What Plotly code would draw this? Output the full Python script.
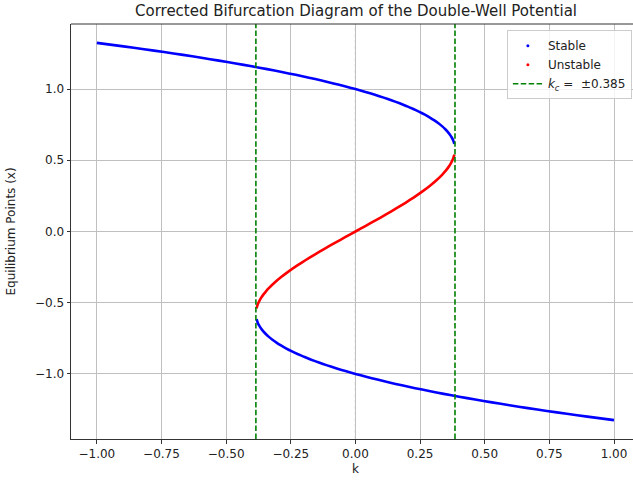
import plotly.graph_objects as go

# Upper stable branch (k, x)
k_upper = [-1.0, -0.897, -0.8172, -0.7404, -0.6666, -0.5958, -0.528, -0.4630, -0.4009, -0.3415,
           -0.2849, -0.231, -0.1797, -0.1310, -0.0849, -0.0412, 0.0, 0.0388, 0.0753, 0.1094,
           0.1413, 0.171, 0.1985, 0.2239, 0.2473, 0.2686, 0.288, 0.3054, 0.3210, 0.3348,
           0.3467, 0.357, 0.3656, 0.3725, 0.3779, 0.3824]
x_upper = [1.3247, 1.30, 1.28, 1.26, 1.24, 1.22, 1.20, 1.18, 1.16, 1.14,
           1.12, 1.10, 1.08, 1.06, 1.04, 1.02, 1.00, 0.98, 0.96, 0.94,
           0.92, 0.90, 0.88, 0.86, 0.84, 0.82, 0.80, 0.78, 0.76, 0.74,
           0.72, 0.70, 0.68, 0.66, 0.64, 0.615]

# Lower stable branch (k, x)
k_lower = [-0.3824, -0.3779, -0.3725, -0.3656, -0.357, -0.3467, -0.3348, -0.3210, -0.3054, -0.288,
           -0.2686, -0.2473, -0.2239, -0.1985, -0.171, -0.1413, -0.1094, -0.0753, -0.0388, 0.0,
           0.0412, 0.0849, 0.1310, 0.1797, 0.231, 0.2849, 0.3415, 0.4009, 0.4630, 0.528,
           0.5958, 0.6666, 0.7404, 0.8172, 0.897, 1.0]
x_lower = [-0.615, -0.64, -0.66, -0.68, -0.70, -0.72, -0.74, -0.76, -0.78, -0.80,
           -0.82, -0.84, -0.86, -0.88, -0.90, -0.92, -0.94, -0.96, -0.98, -1.00,
           -1.02, -1.04, -1.06, -1.08, -1.10, -1.12, -1.14, -1.16, -1.18, -1.20,
           -1.22, -1.24, -1.26, -1.28, -1.30, -1.3247]

# Middle unstable branch (k, x)
k_mid = [-0.3825, -0.3794, -0.375, -0.3694, -0.3627, -0.3548, -0.3459, -0.336, -0.3133, -0.2872,
         -0.2580, -0.2262, -0.192, -0.1559, -0.1183, -0.0795, -0.0399, 0.0, 0.0399, 0.0795,
         0.1183, 0.1559, 0.192, 0.2262, 0.2580, 0.2872, 0.3133, 0.336, 0.3459, 0.3548,
         0.3627, 0.3694, 0.375, 0.3794, 0.3825]
x_mid = [-0.54, -0.52, -0.50, -0.48, -0.46, -0.44, -0.42, -0.40, -0.36, -0.32,
         -0.28, -0.24, -0.20, -0.16, -0.12, -0.08, -0.04, 0.0, 0.04, 0.08,
         0.12, 0.16, 0.20, 0.24, 0.28, 0.32, 0.36, 0.40, 0.42, 0.44,
         0.46, 0.48, 0.50, 0.52, 0.54]

k_crit = 0.385
x_ticks = [-1.0, -0.75, -0.5, -0.25, 0.0, 0.25, 0.5, 0.75, 1.0]
x_tick_labels = ["\u22121.00", "\u22120.75", "\u22120.50", "\u22120.25", "0.00", "0.25", "0.50", "0.75", "1.00"]
y_ticks = [-1.0, -0.5, 0.0, 0.5, 1.0]
y_tick_labels = ["\u22121.0", "\u22120.5", "0.0", "0.5", "1.0"]

X_RANGE = [-1.1, 1.0734]
Y_RANGE = [-1.457, 1.457]
FONT = "DejaVu Sans"

fig = go.Figure()

line_w = 2.6
fig.add_trace(go.Scatter(x=k_upper, y=x_upper, mode="lines", line=dict(color="#0000ff", width=line_w, shape="spline", smoothing=0.5),
                         showlegend=False, hoverinfo="skip"))
fig.add_trace(go.Scatter(x=k_lower, y=x_lower, mode="lines", line=dict(color="#0000ff", width=line_w, shape="spline", smoothing=0.5),
                         showlegend=False, hoverinfo="skip"))
fig.add_trace(go.Scatter(x=k_mid, y=x_mid, mode="lines", line=dict(color="#ff0000", width=line_w, shape="spline", smoothing=0.5),
                         showlegend=False, hoverinfo="skip"))

# legend entries
fig.add_trace(go.Scatter(x=[None], y=[None], mode="markers", marker=dict(color="#0000ff", size=3), name="Stable"))
fig.add_trace(go.Scatter(x=[None], y=[None], mode="markers", marker=dict(color="#ff0000", size=3), name="Unstable"))
fig.add_trace(go.Scatter(x=[-k_crit, -k_crit, None, k_crit, k_crit],
                         y=[Y_RANGE[0], Y_RANGE[1], None, Y_RANGE[0], Y_RANGE[1]],
                         mode="lines", line=dict(color="#008000", width=1.6, dash="5.5px,2.4px"),
                         name="<i>k</i><sub><i>c</i></sub> =  \u00b10.385"))

shapes = [
    dict(type="line", xref="x", yref="paper", x0=0, x1=0, y0=0, y1=1, line=dict(color="black", width=0.8, dash="dot"), layer="below"),
    dict(type="line", xref="paper", yref="y", x0=0, x1=1, y0=0, y1=0, line=dict(color="black", width=0.8, dash="dot"), layer="below"),
    dict(type="line", xref="paper", yref="paper", x0=0, x1=1, y0=1, y1=1, line=dict(color="#333333", width=1)),
]

fig.update_layout(
    width=633, height=480,
    margin=dict(l=71, r=0, t=24, b=41),
    paper_bgcolor="white", plot_bgcolor="white",
    font=dict(family=FONT, size=12, color="#222222"),
    showlegend=True,
    legend=dict(x=0.998, y=0.985, xanchor="right", yanchor="top",
                bgcolor="rgba(255,255,255,0.8)", bordercolor="#cccccc", borderwidth=1,
                font=dict(family=FONT, size=12, color="#222222"), tracegroupgap=0),
    xaxis=dict(range=X_RANGE, tickvals=x_ticks, ticktext=x_tick_labels, showgrid=True, gridcolor="#c0c0c0", gridwidth=0.8,
               zeroline=False, showline=True, linecolor="#333333", linewidth=1, ticks="outside", ticklen=3.5,
               tickcolor="#333333", mirror=False, tickfont=dict(size=12)),
    yaxis=dict(range=Y_RANGE, tickvals=y_ticks, ticktext=y_tick_labels, showgrid=True, gridcolor="#c0c0c0", gridwidth=0.8,
               zeroline=False, showline=True, linecolor="#333333", linewidth=1, ticks="outside", ticklen=3.5,
               tickcolor="#333333", mirror=False, tickfont=dict(size=12)),
    shapes=shapes,
    annotations=[
        dict(text="Corrected Bifurcation Diagram of the Double-Well Potential", xref="paper", yref="paper",
             x=(355.5 - 71) / 562, y=1, yshift=13, xanchor="center", yanchor="middle", showarrow=False,
             font=dict(family=FONT, size=15, color="#222222")),
        dict(text="k", xref="paper", yref="paper", x=(355.5 - 71) / 562, y=0, yshift=-30, xanchor="center",
             yanchor="middle", showarrow=False, font=dict(family=FONT, size=12)),
        dict(text="Equilibrium Points (x)", xref="paper", yref="paper", x=0, xshift=-61, y=0.5, textangle=-90,
             xanchor="center", yanchor="middle", showarrow=False, font=dict(family=FONT, size=12)),
    ],
)

fig.write_html("out.html")
